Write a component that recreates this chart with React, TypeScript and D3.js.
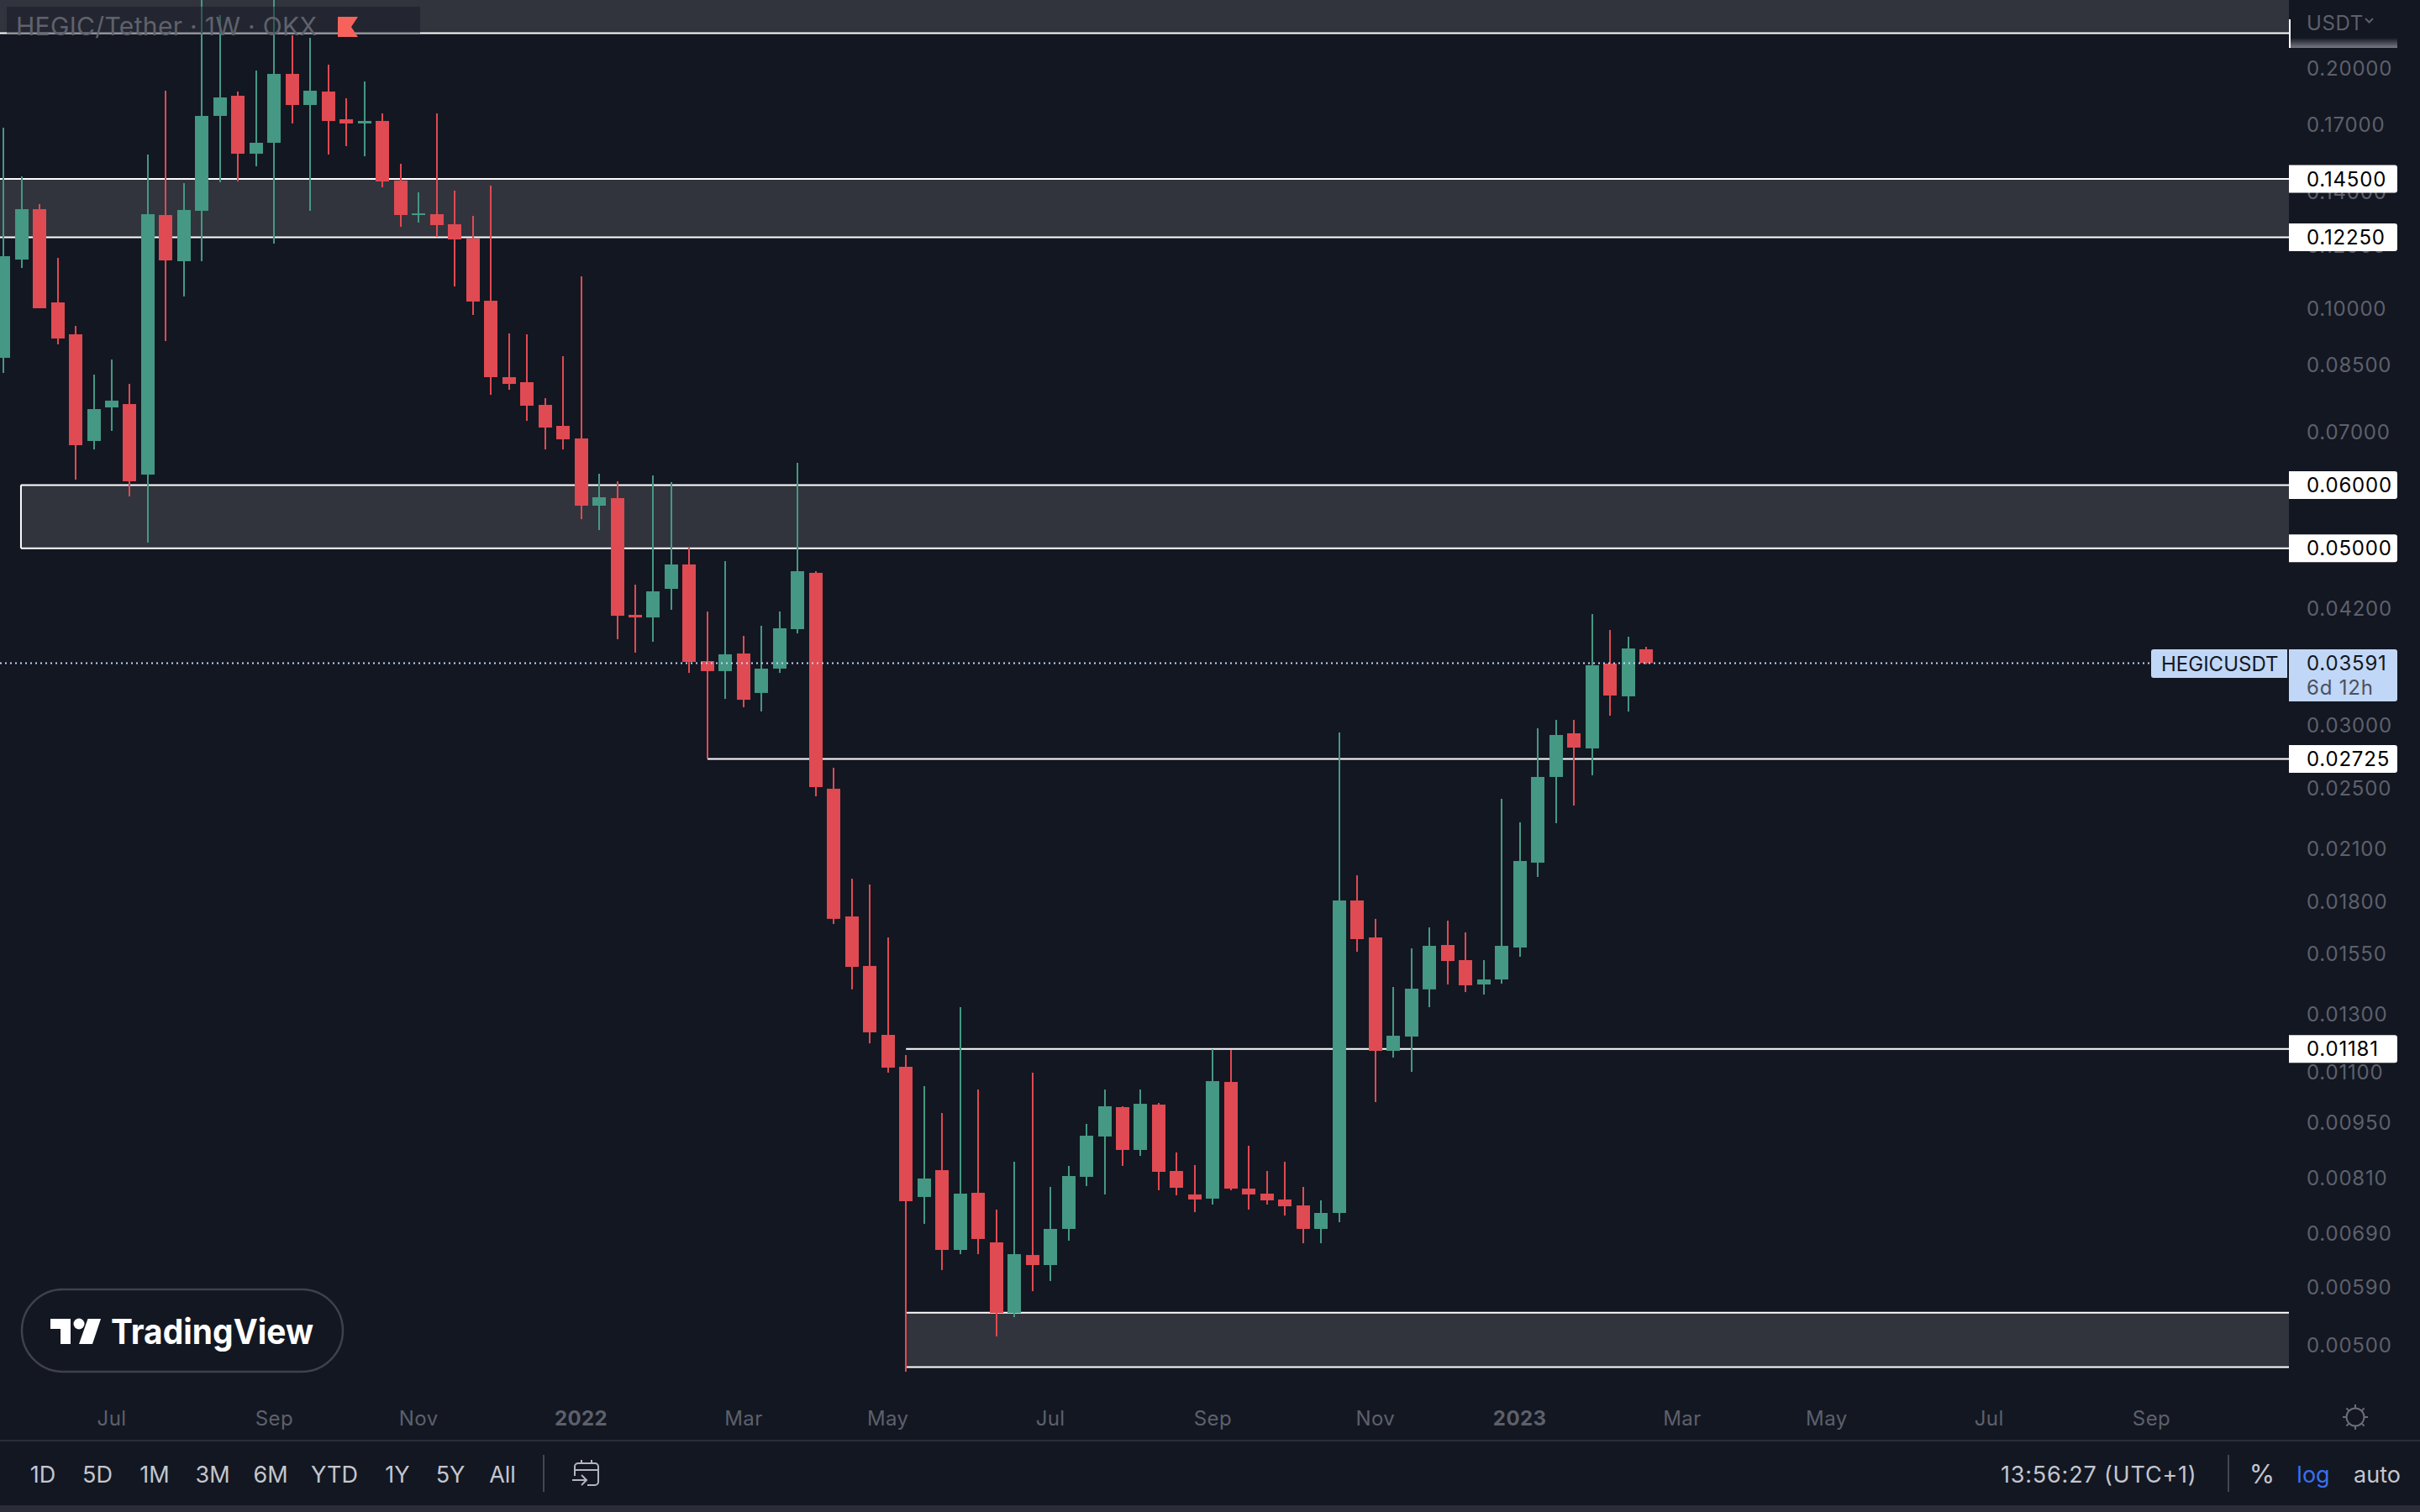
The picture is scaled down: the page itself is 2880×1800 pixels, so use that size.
import * as d3 from 'd3';
import React, { useEffect } from 'react';

// weekly OHLC, one entry per candle
const opens = [
  0.08657, 0.11492, 0.13289, 0.10157, 0.09264, 0.06812, 0.07504, 0.07577, 0.06183, 0.13066,
  0.11437, 0.13225, 0.17387, 0.18427, 0.15592, 0.16091, 0.19625, 0.17943, 0.18651, 0.17219,
  0.17012, 0.17136, 0.1443, 0.13066, 0.13097, 0.12723, 0.12209, 0.10206, 0.08188, 0.0807,
  0.07559, 0.07115, 0.06862, 0.05653, 0.05778, 0.04127, 0.04096, 0.04448, 0.04772, 0.03612,
  0.03509, 0.03692, 0.03295, 0.03534, 0.0396, 0.04658, 0.025, 0.0173, 0.015, 0.012297,
  0.011216, 0.007707, 0.008327, 0.006616, 0.0078, 0.006762, 0.005517, 0.00652, 0.006334, 0.007029,
  0.008167, 0.009174, 0.009985, 0.008826, 0.010058, 0.008307, 0.007763, 0.00767, 0.010737, 0.007895,
  0.007782, 0.007651, 0.007521, 0.007029, 0.00736, 0.018116, 0.016285, 0.011744, 0.012237, 0.01402,
  0.015934, 0.015254, 0.01422, 0.014428, 0.015818, 0.020202, 0.025862, 0.029331, 0.02808, 0.035859,
  0.032629, 0.037367,
];
const highs = [
  0.16807, 0.14605, 0.13484, 0.11548, 0.09491, 0.08248, 0.08615, 0.08031, 0.15554, 0.18697,
  0.14325, 0.25, 0.2325, 0.18651, 0.19816, 0.26, 0.21937, 0.21778, 0.20155, 0.18294,
  0.19201, 0.17513, 0.15145, 0.13949, 0.17513, 0.14017, 0.13034, 0.14222, 0.09287, 0.09264,
  0.07707, 0.08699, 0.10949, 0.06198, 0.06065, 0.04502, 0.06168, 0.0605, 0.05008, 0.04167,
  0.04818, 0.03884, 0.03999, 0.04167, 0.06396, 0.0468, 0.02656, 0.01929, 0.01897, 0.016285,
  0.011602, 0.010608, 0.009817, 0.013319, 0.010505, 0.007431, 0.008531, 0.011028, 0.007934, 0.008429,
  0.009513, 0.010505, 0.01001, 0.010505, 0.010106, 0.008762, 0.008449, 0.011801, 0.011772, 0.008933,
  0.008307, 0.008531, 0.007934, 0.007632, 0.0294, 0.01948, 0.01718, 0.014117, 0.015781, 0.016764,
  0.017092, 0.016523, 0.015254, 0.024282, 0.022693, 0.02976, 0.030489, 0.030489, 0.041365, 0.039505,
  0.038747, 0.037638,
];
const lows = [
  0.08288, 0.11217, 0.09987, 0.08999, 0.06094, 0.06648, 0.07013, 0.05806, 0.05082, 0.09087,
  0.10331, 0.11437, 0.1436, 0.14395, 0.15036, 0.12033, 0.17012, 0.13225, 0.15554, 0.15936,
  0.15479, 0.14153, 0.12631, 0.12784, 0.12269, 0.10635, 0.09795, 0.07782, 0.07896, 0.07219,
  0.06648, 0.06648, 0.05438, 0.0527, 0.03847, 0.03701, 0.03819, 0.04187, 0.03491, 0.02728,
  0.03239, 0.03162, 0.03124, 0.03491, 0.03912, 0.02446, 0.01693, 0.01402, 0.012, 0.011028,
  0.004657, 0.007132, 0.006243, 0.006536, 0.006536, 0.005156, 0.00545, 0.005875, 0.006049, 0.006795,
  0.007953, 0.007763, 0.008429, 0.008677, 0.007857, 0.007744, 0.007377, 0.00754, 0.007857, 0.007431,
  0.00754, 0.007306, 0.006745, 0.006745, 0.007166, 0.015627, 0.010131, 0.011519, 0.011054, 0.013319,
  0.01422, 0.013912, 0.013812, 0.014255, 0.015403, 0.019386, 0.022637, 0.023816, 0.025987, 0.030859,
  0.031236, 0.0358,
];
const closes = [
  0.11604, 0.13289, 0.09987, 0.09153, 0.0673, 0.07468, 0.07652, 0.06065, 0.13097, 0.11464,
  0.13257, 0.17387, 0.18338, 0.15592, 0.16091, 0.19625, 0.17943, 0.18697, 0.17136, 0.17012,
  0.17136, 0.14395, 0.13066, 0.13129, 0.12692, 0.12179, 0.10182, 0.08188, 0.08031, 0.07541,
  0.07081, 0.06845, 0.05653, 0.05792, 0.04116, 0.04096, 0.04416, 0.04772, 0.03603, 0.03509,
  0.03683, 0.03231, 0.03534, 0.0397, 0.0468, 0.02512, 0.01718, 0.01496, 0.012387, 0.011189,
  0.007614, 0.008128, 0.006616, 0.007782, 0.006828, 0.005517, 0.006536, 0.006334, 0.007029, 0.008187,
  0.009196, 0.01001, 0.008826, 0.010082, 0.008287, 0.007914, 0.007651, 0.010763, 0.007895, 0.007763,
  0.007632, 0.007503, 0.007029, 0.00736, 0.018116, 0.016206, 0.011744, 0.012267, 0.014049, 0.015896,
  0.015217, 0.014186, 0.014428, 0.015896, 0.0203, 0.025862, 0.029189, 0.028148, 0.035685, 0.032706,
  0.037457, 0.03591,
];

const priceTicks = [
  0.2, 0.17, 0.14, 0.12, 0.1, 0.085, 0.07, 0.042, 0.03, 0.025, 0.021, 0.018, 0.0155, 0.013, 0.011,
  0.0095, 0.0081, 0.0069, 0.0059, 0.005,
];
const levelLabels = [0.145, 0.1225, 0.06, 0.05, 0.02725, 0.01181];
const lastPrice = 0.03591;

// tick position given as candle index
const timeTicks: [number, string, boolean][] = [
  [6, 'Jul', false], [15, 'Sep', false], [23, 'Nov', false], [32, '2022', true],
  [41, 'Mar', false], [49, 'May', false], [58, 'Jul', false], [67, 'Sep', false],
  [76, 'Nov', false], [84, '2023', true], [93, 'Mar', false], [101, 'May', false],
  [110, 'Jul', false], [119, 'Sep', false],
];

// zones: [top price, bottom price, first candle index or null for the left edge]
const zones: [number, number, number | null, boolean][] = [
  [0.3, 0.2207, null, false],
  [0.145, 0.1225, null, false],
  [0.06, 0.05, 0.97, true],
  [0.00552, 0.00472, 50, false],
];
// single levels: [price, first candle index]
const levels: [number, number][] = [
  [0.02725, 39],
  [0.01181, 50],
];

const rangeButtons: [string, number][] = [
  ['1D', 51], ['5D', 116], ['1M', 184], ['3M', 253], ['6M', 322], ['YTD', 398], ['1Y', 473], ['5Y', 536], ['All', 598],
];

const BG = '#131722';
const UP = '#459883';
const DOWN = '#e04a52';
const ZONE = '#31343d';
const PANE_RIGHT = 2724;
const FONT = 'Inter, "Noto Sans", sans-serif';

export default function App() {
  useEffect(() => {
    document.body.style.margin = '0';
    document.body.style.background = BG;
  }, []);

  const x = d3.scaleLinear().domain([0, 91]).range([4.1, 1959]);
  const y = d3.scaleLog().domain([0.05, 0.005]).range([652.7, 652.7 + 413 * Math.LN10]);
  // axis labels sit a touch tighter than the candles at the low end
  const yTick = d3.scaleLog().domain([0.05, 0.005]).range([652.7, 1601]);
  const bodyWidth = 16;

  return (
    <svg width={2880} height={1800} style={{ position: 'fixed', left: 0, top: 0, display: 'block' }} fontFamily={FONT}>
      <defs>
        <linearGradient id="fade" x1="0" x2="0" y1="0" y2="1">
          <stop offset="0%" stopColor="#787a84" stopOpacity={0} />
          <stop offset="100%" stopColor="#787a84" />
        </linearGradient>
        <clipPath id="pane">
          <rect x={0} y={0} width={PANE_RIGHT} height={1660} />
        </clipPath>
      </defs>
      <rect width={2880} height={1800} fill={BG} />

      <g clipPath="url(#pane)">
        {zones.map(([top, bottom, from, closed], i) => {
          const left = from === null ? -5 : x(from);
          return (
            <g key={i}>
              <rect x={left} y={y(top)} width={PANE_RIGHT - left} height={y(bottom) - y(top)} fill={ZONE} />
              <line x1={left} x2={PANE_RIGHT} y1={y(top)} y2={y(top)} stroke="#fff" strokeWidth={2} />
              <line x1={left} x2={PANE_RIGHT} y1={y(bottom)} y2={y(bottom)} stroke="#fff" strokeWidth={2} />
              {closed && <line x1={left} x2={left} y1={y(top)} y2={y(bottom)} stroke="#fff" strokeWidth={2} />}
            </g>
          );
        })}
        {levels.map(([price, from]) => (
          <line key={price} x1={x(from)} x2={PANE_RIGHT} y1={y(price)} y2={y(price)} stroke="#fff" strokeWidth={2} />
        ))}

        {opens.map((open, i) => {
          const close = closes[i];
          const color = close >= open ? UP : DOWN;
          const top = y(Math.max(open, close));
          const bottom = y(Math.min(open, close));
          const cx = x(i);
          return (
            <g key={i} fill={color}>
              <rect x={Math.round(cx) - 1} y={y(highs[i])} width={2} height={y(lows[i]) - y(highs[i])} />
              <rect x={Math.round(cx) - bodyWidth / 2} y={top} width={bodyWidth} height={Math.max(bottom - top, 2)} />
            </g>
          );
        })}

        <line x1={0} x2={2558} y1={y(lastPrice)} y2={y(lastPrice)} stroke="#c1d7f7" strokeWidth={2} strokeDasharray="2 4" />
      </g>

      {/* symbol legend, sits over the drawings */}
      <rect x={8} y={8} width={492} height={32} fill={BG} opacity={0.45} />
      <text x={19} y={42} fontSize={30} fill="#5f626d" textLength={358} lengthAdjust="spacing">
        HEGIC/Tether · 1W · OKX
      </text>
      <path d="M402 20 H426 L418 32 L426 44 H402 Z" fill="#f7635c" />

      {/* price scale */}
      <rect x={PANE_RIGHT} y={0} width={156} height={1700} fill={BG} />
      {priceTicks.map(t => (
        <text key={t} x={2745} y={yTick(t)} dy="0.36em" fontSize={24} letterSpacing={0.8} fill="#5d606b">
          {t.toFixed(5)}
        </text>
      ))}
      <text x={2745} y={36} fontSize={24} letterSpacing={0.6} fill="#5d606b">USDT</text>
      <path d="M2815 22 L2819.5 26.5 L2824 22" fill="none" stroke="#5d606b" strokeWidth={2} />
      <rect x={2726} y={45} width={127} height={12} fill="url(#fade)" />
      <rect x={PANE_RIGHT} y={23} width={2} height={34} fill="#fff" />

      {levelLabels.map(p => (
        <g key={p}>
          <path
            d={`M${PANE_RIGHT} ${y(p) - 16.5} H2850 a3 3 0 0 1 3 3 v27 a3 3 0 0 1 -3 3 H${PANE_RIGHT} Z`}
            fill="#fff"
          />
          <text x={2745} y={y(p)} dy="0.36em" fontSize={24} letterSpacing={0.8} fill="#000">
            {p.toFixed(5)}
          </text>
        </g>
      ))}

      <path d={`M2563 773 H2722 V807 H2563 a3 3 0 0 1 -3 -3 V776 a3 3 0 0 1 3 -3 Z`} fill="#c1d7f7" />
      <text x={2572} y={790} dy="0.36em" fontSize={24} fill="#131722">HEGICUSDT</text>
      <path d={`M${PANE_RIGHT} 773 H2850 a3 3 0 0 1 3 3 v56 a3 3 0 0 1 -3 3 H${PANE_RIGHT} Z`} fill="#c1d7f7" />
      <text x={2745} y={789} dy="0.36em" fontSize={24} letterSpacing={0.8} fill="#131722">{lastPrice.toFixed(5)}</text>
      <text x={2745} y={818} dy="0.36em" fontSize={24} letterSpacing={0.8} fill="#4c5160">6d 12h</text>

      {/* watermark */}
      <rect x={26} y={1535} width={382} height={98} rx={49} fill={BG} stroke="#3f414b" strokeWidth={2.5} />
      <path d="M60 1570 H84 V1600 H72 V1582 H60 Z M104.5 1570 H120 L110 1600 H94 Z" fill="#fff" />
      <circle cx={94} cy={1576} r={6.5} fill="#fff" />
      <text x={132} y={1600} fontSize={41} fontWeight={700} fill="#fff" textLength={241} lengthAdjust="spacingAndGlyphs">
        TradingView
      </text>

      {/* time scale */}
      {timeTicks.map(([i, label, bold]) => (
        <text
          key={`${i}-${label}`}
          x={x(i)}
          y={1688}
          dy="0.36em"
          textAnchor="middle"
          fontSize={24}
          fontWeight={bold ? 700 : 400}
          letterSpacing={0.4}
          fill="#5d606b"
        >
          {label}
        </text>
      ))}
      <g fill="none" stroke="#6a6d78" strokeWidth={2}>
        <circle cx={2803} cy={1687} r={10.5} />
        {d3.range(8).map(k => {
          const a = (k * Math.PI) / 4;
          return (
            <line
              key={k}
              x1={2803 + 11 * Math.cos(a)}
              y1={1687 + 11 * Math.sin(a)}
              x2={2803 + 15 * Math.cos(a)}
              y2={1687 + 15 * Math.sin(a)}
            />
          );
        })}
      </g>

      {/* bottom toolbar */}
      <rect x={0} y={1714} width={2880} height={2} fill="#2a2e39" />
      <rect x={0} y={1792} width={2880} height={8} fill="#2a2d38" />
      {rangeButtons.map(([label, cx]) => (
        <text key={label} x={cx} y={1755} dy="0.36em" textAnchor="middle" fontSize={27} fill="#c3c6ce">
          {label}
        </text>
      ))}
      <rect x={646} y={1732} width={2} height={44} fill="#434651" />
      <g fill="none" stroke="#b2b5be" strokeWidth={2}>
        <path d="M684 1757 V1746 a4 4 0 0 1 4 -4 h20 a4 4 0 0 1 4 4 v18 a4 4 0 0 1 -4 4 h-9" />
        <path d="M684 1750 H712 M692 1738 V1742 M704 1738 V1742" />
        <path d="M681 1762 H698 M692 1756 L698 1762 L692 1768" />
      </g>
      <text x={2381} y={1755} dy="0.36em" fontSize={27} letterSpacing={0.8} fill="#c3c6ce">13:56:27 (UTC+1)</text>
      <rect x={2651} y={1732} width={2} height={44} fill="#434651" />
      <text x={2692} y={1755} dy="0.36em" textAnchor="middle" fontSize={31} fill="#c3c6ce">%</text>
      <text x={2753} y={1755} dy="0.36em" textAnchor="middle" fontSize={27} fill="#3a6ff0">log</text>
      <text x={2829} y={1755} dy="0.36em" textAnchor="middle" fontSize={27} fill="#c3c6ce">auto</text>
    </svg>
  );
}
